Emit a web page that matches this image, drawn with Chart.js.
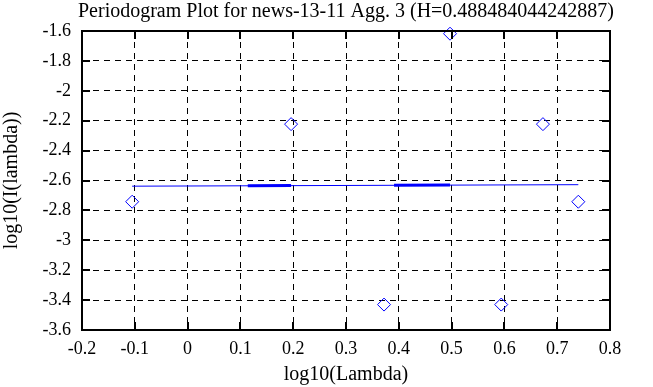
<!DOCTYPE html>
<html lang="en">
<head>
    <meta charset="UTF-8">
    <title>Periodogram Plot</title>
    <script src="https://cdn.jsdelivr.net/npm/chart.js"></script>
    <style>
        body { margin: 0; background: #ffffff; }
        #periodogram { display: block; }
    </style>
</head>
<body>
    <canvas id="periodogram" width="653" height="387"></canvas>
<script>
    // periodogram points
    var logLambda = [-0.105, 0.196, 0.372, 0.497, 0.594, 0.673, 0.740];
    var logPower = [-2.742, -2.223, -3.430, -1.618, -3.430, -2.223, -2.742];

    // fitted line (end points)
    var fitX = [-0.105, 0.740];
    var fitY = [-2.638, -2.628];

    // heavier stretches of the fitted line
    var heavyX1 = [0.114, 0.196];
    var heavyY1 = [-2.635, -2.634];
    var heavyX2 = [0.391, 0.497];
    var heavyY2 = [-2.631, -2.630];

    var xTicks = [-0.2, -0.1, 0, 0.1, 0.2, 0.3, 0.4, 0.5, 0.6, 0.7, 0.8];
    var yTicks = [-1.6, -1.8, -2, -2.2, -2.4, -2.6, -2.8, -3, -3.2, -3.4, -3.6];

    var plotTitle = 'Periodogram Plot for news-13-11 Agg. 3 (H=0.488484044242887)';

    function pairs(xs, ys) {
        return xs.map(function (x, i) { return { x: x, y: ys[i] }; });
    }

    function fmt(v) {
        var r = Math.round(v * 10) / 10;
        return r === 0 ? '0' : String(r);
    }

    // gnuplot style frame with inward ticks on all four sides, title centred on the plot
    var framePlugin = {
        id: 'frame',
        afterDraw: function (chart) {
            var ctx = chart.ctx;
            var a = chart.chartArea;
            var xs = chart.scales.x;
            var ys = chart.scales.y;
            var len = 8;
            ctx.save();
            ctx.strokeStyle = '#000000';
            ctx.lineWidth = 2;
            ctx.setLineDash([]);
            ctx.beginPath();
            xTicks.forEach(function (v) {
                var px = Math.round(xs.getPixelForValue(v));
                ctx.moveTo(px, a.bottom);
                ctx.lineTo(px, a.bottom - len);
                ctx.moveTo(px, a.top);
                ctx.lineTo(px, a.top + len);
            });
            yTicks.forEach(function (v) {
                var py = Math.round(ys.getPixelForValue(v));
                ctx.moveTo(a.left, py);
                ctx.lineTo(a.left + len, py);
                ctx.moveTo(a.right, py);
                ctx.lineTo(a.right - len, py);
            });
            ctx.stroke();
            ctx.strokeRect(a.left, a.top, a.right - a.left, a.bottom - a.top);

            ctx.fillStyle = '#000000';
            ctx.font = '20px "Liberation Serif", "DejaVu Serif", serif';
            ctx.textAlign = 'center';
            ctx.textBaseline = 'middle';
            ctx.fillText(plotTitle, (a.left + a.right) / 2, 12);
            ctx.restore();
        }
    };

    Chart.defaults.font.family = '"Liberation Serif", "DejaVu Serif", serif';
    Chart.defaults.font.size = 18;
    Chart.defaults.color = '#000000';

    var ctx = document.getElementById('periodogram').getContext('2d');
    window.myChart = new Chart(ctx, {
        type: 'scatter',
        data: {
            datasets: [{
                label: 'periodogram',
                data: pairs(logLambda, logPower),
                showLine: false,
                pointStyle: 'rectRot',
                pointRadius: 6.5,
                pointBorderWidth: 1,
                borderColor: '#0000ff',
                backgroundColor: 'rgba(0,0,0,0)',
                clip: false
            }, {
                label: 'fit',
                data: pairs(fitX, fitY),
                showLine: true,
                borderColor: '#0000ff',
                borderWidth: 1,
                pointRadius: 0
            }, {
                label: 'fit heavy 1',
                data: pairs(heavyX1, heavyY1),
                showLine: true,
                borderColor: '#0000ff',
                borderWidth: 3,
                pointRadius: 0
            }, {
                label: 'fit heavy 2',
                data: pairs(heavyX2, heavyY2),
                showLine: true,
                borderColor: '#0000ff',
                borderWidth: 3,
                pointRadius: 0
            }]
        },
        options: {
            responsive: false,
            animation: false,
            events: [],
            layout: { padding: { left: 0, right: 43, top: 31, bottom: 0 } },
            scales: {
                x: {
                    type: 'linear',
                    min: -0.2,
                    max: 0.8,
                    afterBuildTicks: function (scale) {
                        scale.ticks = xTicks.map(function (v) { return { value: v }; });
                    },
                    afterFit: function (scale) { scale.height = 57; },
                    ticks: {
                        padding: 8,
                        maxRotation: 0,
                        autoSkip: false,
                        callback: function (v) { return fmt(v); }
                    },
                    grid: { color: '#000000', lineWidth: 1, drawTicks: false },
                    border: { display: false, dash: [6, 5] },
                    title: {
                        display: true,
                        text: 'log10(Lambda)',
                        font: { size: 20 },
                        padding: { top: 0, bottom: 0 }
                    }
                },
                y: {
                    type: 'linear',
                    min: -3.6,
                    max: -1.6,
                    afterBuildTicks: function (scale) {
                        scale.ticks = yTicks.map(function (v) { return { value: v }; });
                    },
                    afterFit: function (scale) { scale.width = 82; },
                    ticks: {
                        padding: 11,
                        autoSkip: false,
                        callback: function (v) { return fmt(v); }
                    },
                    grid: { color: '#000000', lineWidth: 1, drawTicks: false },
                    border: { display: false, dash: [6, 5] },
                    title: {
                        display: true,
                        text: 'log10(I(lambda))',
                        font: { size: 20 },
                        padding: { top: 0, bottom: 0 }
                    }
                }
            },
            plugins: {
                legend: { display: false },
                tooltip: { enabled: false },
                title: { display: false }
            }
        },
        plugins: [framePlugin]
    });
</script>
</body>
</html>
